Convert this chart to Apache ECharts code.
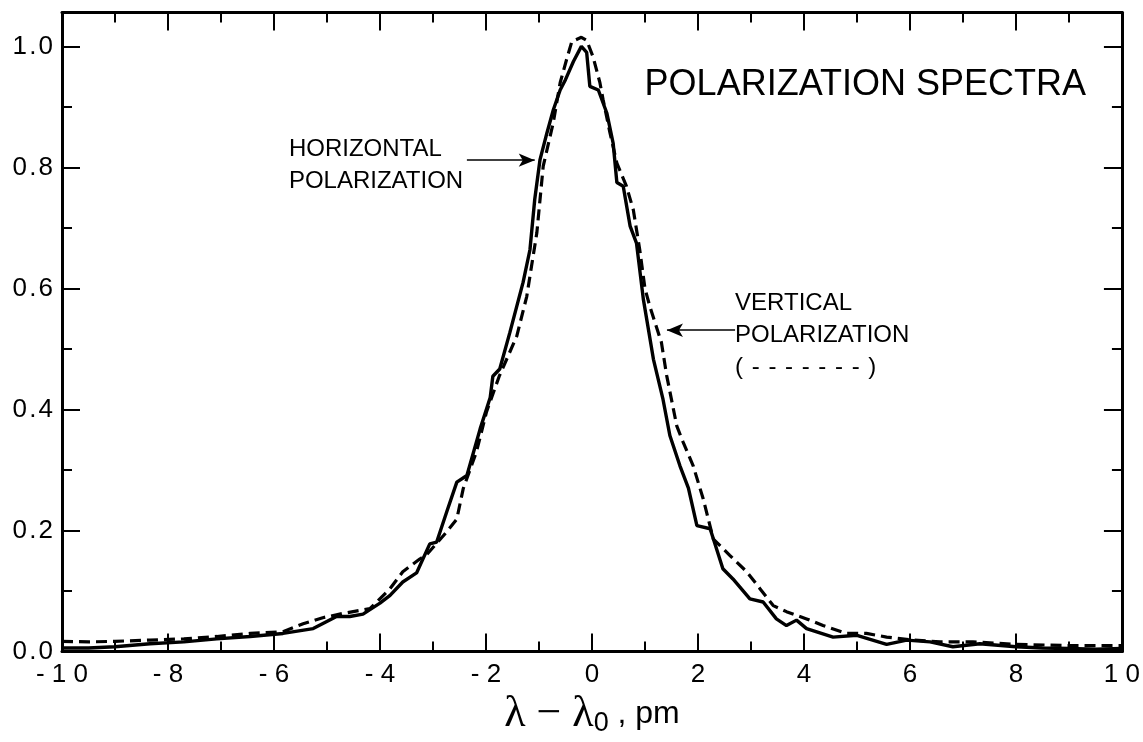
<!DOCTYPE html>
<html>
<head>
<meta charset="utf-8">
<script src="https://cdn.jsdelivr.net/npm/echarts@6/dist/echarts.min.js"></script>
<style>
html,body{margin:0;padding:0;background:#fff;}
#c{width:1143px;height:742px;}
</style>
</head>
<body>
<div id="c"></div>
<script>
// Horizontal polarization (solid)
const hX = [-10,-9.5,-9,-8.34,-7.7,-7.08,-6.45,-5.83,-5.26,-4.82,-4.57,-4.32,-4.0,-3.81,-3.57,-3.31,-3.06,-2.93,-2.74,-2.55,-2.36,-2.11,-1.92,-1.87,-1.74,-1.55,-1.3,-1.17,-1.08,-0.98,-0.85,-0.73,-0.6,-0.5,-0.35,-0.2,-0.1,-0.04,0.12,0.28,0.4,0.47,0.59,0.72,0.84,0.97,1.16,1.34,1.47,1.66,1.82,1.98,2.23,2.47,2.66,2.98,3.23,3.48,3.67,3.86,4.05,4.55,5.0,5.56,5.94,6.38,6.81,7.32,8.0,8.5,9.0,9.5,10];
const hY = [0.006,0.006,0.008,0.013,0.016,0.021,0.025,0.03,0.038,0.058,0.058,0.062,0.08,0.093,0.115,0.13,0.178,0.181,0.231,0.28,0.291,0.368,0.42,0.455,0.467,0.527,0.61,0.664,0.747,0.813,0.857,0.895,0.928,0.945,0.975,1.0,0.99,0.934,0.928,0.89,0.84,0.775,0.769,0.703,0.675,0.582,0.483,0.417,0.357,0.307,0.27,0.208,0.203,0.137,0.12,0.087,0.082,0.054,0.043,0.052,0.038,0.024,0.027,0.012,0.019,0.016,0.008,0.013,0.008,0.006,0.005,0.004,0.005];
// Vertical polarization (dashed)
const vX = [-10,-9.5,-9,-8.34,-7.7,-7.08,-6.45,-5.83,-5.45,-5.08,-4.7,-4.19,-3.81,-3.57,-3.25,-3.12,-2.74,-2.55,-2.43,-2.18,-1.99,-1.75,-1.42,-1.23,-1.14,-1.04,-0.98,-0.92,-0.73,-0.6,-0.48,-0.38,-0.2,-0.1,0.02,0.15,0.21,0.34,0.47,0.65,0.78,0.9,1.0,1.09,1.31,1.41,1.6,1.72,1.91,2.1,2.29,2.6,2.92,3.17,3.42,3.67,4.05,4.36,4.8,5.18,5.56,6.06,6.57,7.19,8,9,10];
const vY = [0.017,0.016,0.017,0.019,0.021,0.025,0.03,0.033,0.046,0.056,0.063,0.071,0.104,0.132,0.153,0.16,0.198,0.219,0.269,0.33,0.396,0.455,0.521,0.587,0.637,0.692,0.747,0.802,0.874,0.94,0.978,1.008,1.015,1.01,0.983,0.94,0.912,0.857,0.807,0.769,0.73,0.665,0.6,0.571,0.511,0.456,0.373,0.346,0.307,0.252,0.186,0.159,0.132,0.104,0.076,0.066,0.054,0.043,0.03,0.03,0.024,0.019,0.016,0.016,0.012,0.01,0.01];

const xRange = [-10, 10];
const yRange = [0, 1.056];
const titleText = 'POLARIZATION SPECTRA';
const hLabel = ['HORIZONTAL', 'POLARIZATION'];
const vLabel = ['VERTICAL', 'POLARIZATION', '( \u200A- \u200A- \u200A- \u200A- \u200A- \u200A- \u200A- \u200A)'];
// annotation arrows in data units: [from, to]
const hArrow = [[-2.36, 0.812], [-1.08, 0.812]];
const vArrow = [[2.7, 0.531], [1.415, 0.531]];

const FONT = 'Liberation Sans';
const axisLineStyle = {color: '#000', width: 3};
function xFmt(v) {
  if (Math.abs(v % 2) > 1e-6) return '';
  const s = String(Math.abs(v)).split('').join(' ');
  return v < 0 ? '- ' + s : s;
}
function yFmt(v) {
  const r = Math.round(v * 10) / 10;
  if (Math.abs(r - v) > 1e-6 || Math.abs(Math.round(r * 10) % 2) > 0) return '';
  return r.toFixed(1).replace('.', '\u200A.\u200A');
}
const tick = {show: true, inside: true, length: 18, lineStyle: {color: '#000', width: 2}};
const minor = {show: true, splitNumber: 2, length: 10, lineStyle: {color: '#000', width: 2}};

const chart = echarts.init(document.getElementById('c'));
chart.setOption({
  animation: false,
  backgroundColor: '#fff',
  grid: {left: 62, right: 21, top: 12.5, bottom: 89, containLabel: false},
  title: {
    text: titleText, right: 52, top: 62,
    textStyle: {fontFamily: FONT, fontSize: 36, fontWeight: 'normal', color: '#000'}
  },
  xAxis: [{
    type: 'value', min: xRange[0], max: xRange[1], interval: 2,
    axisLine: {onZero: false, lineStyle: axisLineStyle}, axisTick: tick, minorTick: minor,
    splitLine: {show: false}, minorSplitLine: {show: false},
    axisLabel: {formatter: xFmt, fontFamily: FONT, fontSize: 26, color: '#000', margin: 10},
    name: '{l|λ − λ}{s|0}{p| , pm}', nameLocation: 'middle', nameGap: 40,
    nameTextStyle: {
      rich: {
        l: {fontFamily: 'Liberation Serif', fontSize: 44, color: '#000'},
        s: {fontFamily: FONT, fontSize: 27, color: '#000', padding: [18, 0, 0, 0]},
        p: {fontFamily: FONT, fontSize: 32, color: '#000'}
      }
    }
  }, {
    type: 'value', position: 'top', min: xRange[0], max: xRange[1], interval: 2,
    axisLine: {onZero: false, lineStyle: axisLineStyle}, axisTick: tick, minorTick: minor,
    splitLine: {show: false}, axisLabel: {show: false}
  }],
  yAxis: [{
    type: 'value', min: yRange[0], max: yRange[1], interval: 0.2,
    axisLine: {onZero: false, lineStyle: axisLineStyle}, axisTick: tick, minorTick: minor,
    splitLine: {show: false},
    axisLabel: {formatter: yFmt, fontFamily: FONT, fontSize: 26, color: '#000', margin: 9}
  }, {
    type: 'value', position: 'right', min: yRange[0], max: yRange[1], interval: 0.2,
    axisLine: {onZero: false, lineStyle: axisLineStyle}, axisTick: tick, minorTick: minor,
    splitLine: {show: false}, axisLabel: {show: false}
  }],
  series: [{
    name: 'Horizontal', type: 'line', xAxisIndex: 0, yAxisIndex: 0,
    data: hX.map((x, i) => [x, hY[i]]), showSymbol: false, symbol: 'none',
    lineStyle: {color: '#000', width: 3.4}, z: 3,
    markLine: {
      silent: true, symbol: ['none', 'arrow'], symbolSize: [10, 16],
      lineStyle: {color: '#000', width: 1.5, type: 'solid'}, label: {show: false},
      data: [[{coord: hArrow[0]}, {coord: hArrow[1]}], [{coord: vArrow[0]}, {coord: vArrow[1]}]]
    }
  }, {
    name: 'Vertical', type: 'line', xAxisIndex: 0, yAxisIndex: 0,
    data: vX.map((x, i) => [x, vY[i]]), showSymbol: false, symbol: 'none',
    lineStyle: {color: '#000', width: 3.2, type: [11, 6]}, z: 2
  }]
});

function place() {
  const h0 = chart.convertToPixel({gridIndex: 0}, hArrow[0]);
  const v0 = chart.convertToPixel({gridIndex: 0}, vArrow[0]);
  chart.setOption({
    graphic: [{
      type: 'text', left: h0[0] - 178, top: h0[1] - 27,
      style: {text: hLabel.join('\n'), font: '24px "Liberation Sans"', fill: '#000', lineHeight: 32}
    }, {
      type: 'text', left: v0[0], top: v0[1] - 43,
      style: {text: vLabel.join('\n'), font: '24px "Liberation Sans"', fill: '#000', lineHeight: 32}
    }]
  });
}
place();
</script>
</body>
</html>
